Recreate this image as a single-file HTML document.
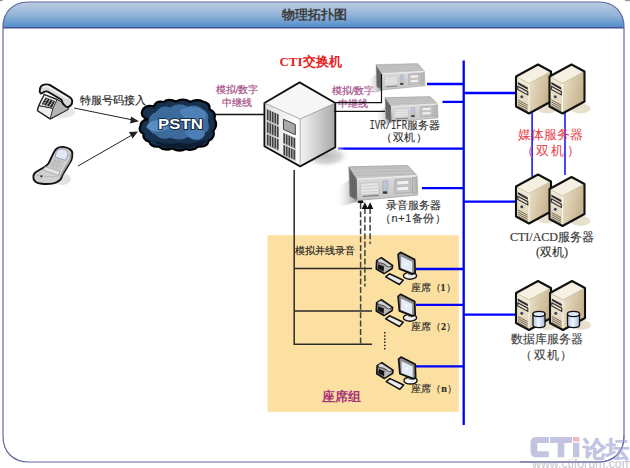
<!DOCTYPE html>
<html><head><meta charset="utf-8">
<style>
html,body{margin:0;padding:0;background:#fff;width:630px;height:468px;overflow:hidden}
svg{display:block}
text{font-family:"Liberation Sans",sans-serif;font-weight:400}
.serif{font-family:"Liberation Serif",serif}
</style></head><body>
<svg width="630" height="468" viewBox="0 0 630 468">
<defs>
  <linearGradient id="hdr" x1="0" y1="0" x2="0" y2="1">
    <stop offset="0" stop-color="#bccde0"/>
    <stop offset="0.5" stop-color="#93b4d8"/>
    <stop offset="1" stop-color="#4f8ccb"/>
  </linearGradient>
  <linearGradient id="twFront" x1="0" y1="0" x2="0" y2="1">
    <stop offset="0" stop-color="#f3ecdc"/>
    <stop offset="1" stop-color="#ddd0b0"/>
  </linearGradient>
  <linearGradient id="twSide" x1="0" y1="0" x2="1" y2="0.3">
    <stop offset="0" stop-color="#f3ecdc"/>
    <stop offset="0.5" stop-color="#e6dac0"/>
    <stop offset="1" stop-color="#c8b690"/>
  </linearGradient>
  <linearGradient id="cubeR" x1="0" y1="0" x2="1" y2="0">
    <stop offset="0" stop-color="#f4f4f4"/>
    <stop offset="1" stop-color="#a8a8a8"/>
  </linearGradient>
  <linearGradient id="cubeL" x1="0" y1="0" x2="1" y2="0">
    <stop offset="0" stop-color="#e0e0e0"/>
    <stop offset="1" stop-color="#ffffff"/>
  </linearGradient>
  <radialGradient id="shadow" cx="0.5" cy="0.5" r="0.5">
    <stop offset="0" stop-color="#b8b8b8"/>
    <stop offset="0.6" stop-color="#d8d8d8"/>
    <stop offset="1" stop-color="#ffffff" stop-opacity="0"/>
  </radialGradient>
  <radialGradient id="cloudG" cx="0.5" cy="0.45" r="0.6">
    <stop offset="0" stop-color="#3f6d9c"/>
    <stop offset="1" stop-color="#173352"/>
  </radialGradient>

  <!-- tower server, origin = left-top vertex x, back-top y -->
  <g id="tower">
    <ellipse cx="31" cy="44" rx="10" ry="5" fill="#e8e0cc"/>
    <path d="M0,12 L22,0 L35,7 L35,37 L13,49 L0,42 Z" fill="url(#twSide)"/>
    <path d="M0,12 L22,0 L35,7 L13,19 Z" fill="#f5f0e2"/>
    <path d="M0,12 L13,19 L13,49 L0,42 Z" fill="url(#twFront)"/>
    <path d="M13,19.5 L13,48.5" stroke="#fbf8f0" stroke-width="1"/>
    <path d="M0.5,12.3 L13,19 L34.5,7.2" fill="none" stroke="#bfb49a" stroke-width="0.7"/>
    <path d="M0,12 L22,0 L35,7 L35,37 L13,49 L0,42 Z" fill="none" stroke="#111" stroke-width="2.1" stroke-linejoin="round"/>
    <path d="M1.8,17.6 L11.8,23 L11.8,25.2 L1.8,19.8 Z" fill="#2e2e2e"/>
    <path d="M1.8,21.8 L11.8,27.2 L11.8,30.4 L1.8,25 Z" fill="#e9e1cf" stroke="#2a2a2a" stroke-width="1.1"/>
    <circle cx="5.8" cy="32.3" r="1.5" fill="#3c4658"/>
    <path d="M2,35.5 L11.5,40.6 M2,37.5 L11.5,42.6 M2,39.5 L11.5,44.6 M2,41.5 L11.5,46.6" stroke="#6a6250" stroke-width="0.9"/>
  </g>

  <!-- rack server -->
  <linearGradient id="rkShadow" x1="1" y1="0" x2="0" y2="0">
    <stop offset="0" stop-color="#8a8a8a"/>
    <stop offset="1" stop-color="#ffffff" stop-opacity="0"/>
  </linearGradient>
  <linearGradient id="rkFront" x1="0" y1="0" x2="0" y2="1">
    <stop offset="0" stop-color="#dcdcdc"/>
    <stop offset="1" stop-color="#c4c4c4"/>
  </linearGradient>
  <g id="rack">
    <path d="M1,14 L8,20 L8.8,36 L-4,40 L-14,38 L-13,24 Z" fill="url(#rkShadow)" opacity="0.95"/>
    <path d="M0,1.4 L58.8,0 L68.2,10.1 L8.1,13.6 Z" fill="#c4c4c4"/><path d="M3,4 L60,2.5 M5,7 L63,5.5 M7,10 L66,8.5" stroke="#b4b4b4" stroke-width="0.8"/>
    <path d="M2,2 L58,1 L60,3 L4,4 Z" fill="#bdbdbd"/>
    <path d="M0,1.4 L8.1,13.6 L8.8,35.1 L1,31 Z" fill="#6e6e6e"/><path d="M2,8 V30 M4,10 V32 M6,12 V33" stroke="#555" stroke-width="0.6"/>
    <path d="M8.1,13.6 L68.2,10.1 L68.9,29.6 L8.8,35.1 Z" fill="url(#rkFront)"/>
    <path d="M0,1.4 L58.8,0 L68.2,10.1 L68.9,29.6 L8.8,35.1 L1,31 Z" fill="none" stroke="#9a9a9a" stroke-width="0.7"/>
    <path d="M8.1,13.6 L68.2,10.1" stroke="#f4f4f4" stroke-width="0.8"/>
    <path d="M12,18 L30,17 L30,28 L12,29.5 Z" fill="#e8e8e8" stroke="#b0b0b0" stroke-width="0.5"/>
    <path d="M13,21 L29,20 M13,24 L29,23 M13,27 L29,26" stroke="#bababa" stroke-width="0.6"/>
    <path d="M34,15.5 L39,15.2 L39,25 L34,25.4 Z" fill="#b9c5d8" stroke="#999" stroke-width="0.4"/>
    <rect x="34" y="26" width="4.5" height="2.3" fill="#333"/>
    <path d="M46,14 L62,13 L62,27 L46,28 Z" fill="#c9c9c9" stroke="#9a9a9a" stroke-width="0.6"/>
    <path d="M48,15.5 L60,14.8 L60,19 L48,19.6 Z M48,21.5 L60,20.8 L60,25 L48,25.6 Z" fill="#f0f0f0" stroke="#888" stroke-width="0.4"/>
    <path d="M63.5,12.5 L67.5,12.2 L67.5,27.5 L63.5,28 Z" fill="#bdbdbd" stroke="#8a8a8a" stroke-width="0.5"/>
    <path d="M14,31 L30,30" stroke="#555" stroke-width="0.8"/>
  </g>

  <!-- seat -->
  <g id="seat">
    <!-- phone -->
    <path d="M1.7,8.8 L6.4,5.8 L17.5,13.5 L17.1,16.5 L9,21.6 L1.3,16.9 Z" fill="#9a9a9a" stroke="#111" stroke-width="1.7" stroke-linejoin="round"/>
    <path d="M2.6,8.6 Q3.5,6.5 6.4,6.6 L16.5,13.3 Q15.5,15.5 13,15 Q11,12.5 8,11.5 Q5,10.5 3.5,11 Z" fill="#d4d4d4" stroke="#222" stroke-width="0.8"/>
    <path d="M3.4,12.2 L9,14.4 L8.6,19.5 L2.6,16.5 Z" fill="#151515"/>
    <path d="M9,14.4 L16.6,15.8 L9,20.8 Z" fill="#b8b8b8"/>
    <!-- keyboard -->
    <path d="M10.7,24.8 L14.5,21.8 L28.2,28.2 L24.4,32.5 Z" fill="#eaeaea" stroke="#111" stroke-width="1.5" stroke-linejoin="round"/>
    <!-- monitor base -->
    <ellipse cx="35" cy="23.8" rx="6.6" ry="3.4" fill="#f2f2f2" stroke="#111" stroke-width="1.4"/>
    <path d="M33,20 L37,21.5 L37,23.5 L33,22.5 Z" fill="#777"/>
    <!-- monitor -->
    <path d="M23.1,2.4 L25.6,0.3 L39.7,7.5 L40.2,20.8 L38,22.1 L24.4,16.9 Z" fill="#8c8c8c" stroke="#111" stroke-width="1.7" stroke-linejoin="round"/>
    <path d="M26.1,4.5 L37.2,9.7 L37.2,20.4 L26.1,16.1 Z" fill="#e4eaf6"/>
    <path d="M30.5,10 L33,11.5 L30.5,14 Z" fill="#fafcff"/>
  </g>
</defs>

<!-- frame -->
<rect x="0" y="0" width="2.5" height="1.2" fill="#8a8a8a"/>
<rect x="625" y="0" width="5" height="1.2" fill="#9a9a9a"/>
<path d="M3,27 C3,12 13,2 28,2 L599,2 C614,2 624,12 624,27 L624,436 C624,452 614,462 598,462 L29,462 C13,462 3,452 3,436 Z" fill="#fff"/>
<path d="M3,27.8 L3,27 C3,12 13,2 28,2 L599,2 C614,2 624,12 624,27 L624,27.8 Z" fill="url(#hdr)"/>
<line x1="3" y1="27.8" x2="624" y2="27.8" stroke="#4a4f8f" stroke-width="1.4"/>
<path d="M3,27 C3,12 13,2 28,2 L599,2 C614,2 624,12 624,27 L624,436 C624,452 614,462 598,462 L29,462 C13,462 3,452 3,436 Z" fill="none" stroke="#6266a0" stroke-width="1.2"/>
<text x="314.5" y="18.7" font-size="13" style="font-weight:700" fill="#3c3c3c" text-anchor="middle">物理拓扑图</text>

<!-- orange seat group area -->
<rect x="267.5" y="235.2" width="191.3" height="176.6" fill="#fce0a1"/>

<!-- left phones -->
<g>
  <ellipse cx="62" cy="112" rx="13" ry="6" fill="#e6e6e6"/>
  <path d="M44.4,94.8 L56.9,99.7 L67.7,106 L67.7,109.2 L50.2,118.6 L37.6,110.5 L39,105.6 Z" fill="#c4c4c4" stroke="#111" stroke-width="1.9" stroke-linejoin="round"/>
  <path d="M56.9,99.7 L67.7,106 L67.7,109.2 L50.2,118.6 L52.9,108.3 Z" fill="#b4b4b4"/>
  <path d="M39,105.6 L52.9,108.3 L50.2,118.6 L37.6,110.5 Z" fill="#ececec" stroke="#222" stroke-width="0.9"/>
  <path d="M44.4,94.8 L56.9,99.7 L52.9,108.3 L39,105.6 Z" fill="#f0f0f0" stroke="#222" stroke-width="0.9"/>
  <path d="M45.7,97.5 L55.1,101.1 L52,107.4 L41.7,104.2 Z" fill="#1c1c1c"/>
  <g fill="#e0e0e0"><circle cx="47.0" cy="99.2" r="0.75"/><circle cx="46.1" cy="100.8" r="0.75"/><circle cx="45.1" cy="102.4" r="0.75"/><circle cx="44.1" cy="104.0" r="0.75"/><circle cx="49.8" cy="100.2" r="0.75"/><circle cx="48.9" cy="101.8" r="0.75"/><circle cx="47.9" cy="103.5" r="0.75"/><circle cx="47.0" cy="105.1" r="0.75"/><circle cx="52.7" cy="101.3" r="0.75"/><circle cx="51.7" cy="102.9" r="0.75"/><circle cx="50.7" cy="104.5" r="0.75"/><circle cx="49.8" cy="106.1" r="0.75"/></g>
  <path d="M39.9,89 Q40.5,85.5 44,84.6 Q47.5,84 49.7,84.9 L69.5,97 Q72.6,99 72.2,102 Q72,105.5 68.6,106.9 Q66.5,107.2 65.9,106.5 Q63,104.5 62.3,102.4 Q62,100.5 61.4,99.7 L56.9,97 L47.9,91.7 Q45.5,91 44.4,91.7 Q42,93.5 40.8,93.5 Q39.3,92.5 39.9,89 Z" fill="#d8d8d8" stroke="#111" stroke-width="1.9" stroke-linejoin="round"/>
  <path d="M42.5,87.5 Q45,86 48,86.5 L68,98.8" fill="none" stroke="#fbfbfb" stroke-width="1.3"/>
</g>
<g>
  <ellipse cx="62" cy="179" rx="9" ry="6" fill="#e2e2e2"/>
  <path d="M63.3,146.9 Q67.5,147.5 69.7,149.1 Q72.6,151 72.3,153.9 Q72.5,157.5 71.3,160.3 L64.3,172 Q62.8,174 62.2,175.8 Q61.5,178.5 60,180 Q57,182.5 53.6,183.3 Q48,184.5 41.9,183.8 Q37.5,183.2 35.5,181.7 Q33,179.5 33.3,176.9 Q33.5,173.5 36,172 Q40,169.5 44,167.2 Q47,165.5 48.8,163 L53.6,152.8 Q55,150 56.8,148.5 Q59.5,146.5 63.3,146.9 Z" fill="#d0d0d0" stroke="#111" stroke-width="1.9" stroke-linejoin="round"/>
  <path d="M70.5,154 Q71,158 69.5,161 L62.5,172.5 Q61,175 60.5,177" fill="none" stroke="#9a9a9a" stroke-width="1.6"/>
  <path d="M56.3,151.8 Q58,149.6 60,149.1 Q63,148.6 65.4,149.6 Q67.8,151.2 68,153.9 Q67.5,157.5 65.4,160.3 L55.2,157.1 Z" fill="#e2e9f6" stroke="#666" stroke-width="0.5"/>
  <path d="M53.6,158.2 L64.9,160.8 L60,171 L48.8,166.7 Z" fill="#c6c6c6"/>
  <path d="M52,161 L63,163.5 M50.5,164 L61.5,167 M56,159 L52,168 M60,160 L55.5,169.5" stroke="#b0b0b0" stroke-width="0.5"/>
  <path d="M45.1,166.7 L60,171.5 L58.4,175.3 L43,169.9 Z" fill="#e4e4e4" stroke="#888" stroke-width="0.5"/>
  <path d="M36,175 Q48,178 60,176" fill="none" stroke="#aaa" stroke-width="0.6"/>
  <circle cx="41.4" cy="176.3" r="1.1" fill="#222"/>
</g>
<text stroke="#222" stroke-width="0.15" x="80" y="104" font-size="11" fill="#222">特服号码接入</text>
<!-- arrows -->
<g stroke="#222" stroke-width="1" fill="#222">
  <line x1="74" y1="108" x2="133" y2="120"/>
  <path d="M139,121.2 L131,116.5 L130.2,123.6 Z" stroke="none"/>
  <line x1="78" y1="166" x2="132" y2="135"/>
  <path d="M138,131.5 L129,132 L132.6,138.4 Z" stroke="none"/>
</g>

<!-- PSTN cloud -->
<g transform="translate(177.5,126) scale(0.96,0.98) translate(-177.5,-126)">
<path d="M146,119 Q138,116 141,110 Q144,104 153,106 Q155,100 163,101.5 Q168,97.5 176,101 Q183,97 191,101.5 Q197,98 204,101 Q212,102.5 211,109 Q218,112 216,119 Q220,125 215,131 Q217,138 210,141 Q209,148 199,147 Q194,152 186,149.5 Q180,153 172,149 Q164,152 158,147 Q150,148 148,142 Q141,140 142,134 Q136,131 139,125.5 Q139,121 146,119 Z" fill="#16304d" stroke="#000" stroke-width="2.2" stroke-linejoin="round"/>
<path d="M148,123 Q146,115 155,112 Q160,104 170,107 Q178,101 188,106 Q198,103 204,109 Q212,113 209,121 Q213,130 205,134 Q200,140 190,137 Q180,142 170,138 Q160,141 155,135 Q145,132 148,123 Z" fill="#3d6a9c"/>
<path d="M145,127 Q148,120 158,120 Q166,116 176,121 Q172,130 160,131 Q150,133 145,127 Z" fill="#5b8cc3"/>
<path d="M180,110 Q190,104 200,108 Q209,111 207,118 Q200,122 190,120 Q181,117 180,110 Z" fill="#4f80b8"/>
<path d="M185,132 Q195,128 205,131 Q208,137 200,140 Q190,141 185,132 Z" fill="#4d7fb6"/>
<path d="M152,140 Q165,146 180,143 Q195,146 208,139 Q206,146 197,146 Q188,151 176,148 Q162,151 152,140 Z" fill="#0d1d30"/>
</g>
<text x="180.5" y="129.3" font-size="14" font-weight="bold" fill="#fff" text-anchor="middle" transform="translate(180.5,0) scale(1.2,1) translate(-180.5,0)" stroke="#0a1a30" stroke-width="1.6" paint-order="stroke" font-family="Liberation Sans" style="font-weight:700">PSTN</text>

<!-- lines -->
<line x1="215" y1="114.5" x2="265" y2="114.5" stroke="#111" stroke-width="1.6"/>
<text x="237" y="93.3" font-size="9.8" fill="#a8508a" stroke="#a8508a" stroke-width="0.2" text-anchor="middle">模拟/数字</text>
<text x="236.5" y="106.2" font-size="9.5" fill="#a8508a" stroke="#a8508a" stroke-width="0.2" text-anchor="middle">中继线</text>

<!-- switch to IVR lines -->

<text x="353" y="93.8" font-size="9.8" fill="#a8508a" stroke="#a8508a" stroke-width="0.2" text-anchor="middle">模拟/数字</text>
<text x="353.3" y="106.5" font-size="9.5" fill="#a8508a" stroke="#a8508a" stroke-width="0.2" text-anchor="middle">中继线</text>

<!-- black lines from switch down -->
<path d="M294.2,170 L294.2,344.3 L372,344.3 M294.2,268.6 L372,268.6 M294.2,311.1 L372,311.1" fill="none" stroke="#2a2a2a" stroke-width="1.5"/>
<!-- dashed arrows -->
<g stroke="#404040" stroke-width="1.5" stroke-dasharray="6,2.4" fill="none">
  <line x1="360.6" y1="203" x2="360.6" y2="344"/>
  <line x1="364.9" y1="208" x2="364.9" y2="286.5"/>
  <line x1="370.1" y1="208" x2="370.1" y2="244"/>
</g>
<path d="M360.6,195.5 L357.4,203 L363.8,203 Z M364.9,202.2 L361.7,209 L368.1,209 Z M370.1,202.2 L366.9,209 L373.3,209 Z" fill="#111"/>
<text stroke="#222" stroke-width="0.15" x="325" y="254" font-size="10" fill="#222" text-anchor="middle">模拟并线录音</text>
<path d="M384.8,332 L384.8,351" stroke="#222" stroke-width="1.5" stroke-dasharray="1.5,1.7"/>

<!-- blue lines -->
<g stroke="#0000ff" stroke-width="2.3" fill="none">
  <line x1="463.7" y1="60.5" x2="463.7" y2="425"/>
  <line x1="427" y1="84" x2="463.7" y2="84"/>
  <line x1="442.5" y1="101.9" x2="463.7" y2="101.9"/>
  <line x1="338" y1="148.7" x2="463.7" y2="148.7"/>
  <line x1="422" y1="188.2" x2="463.7" y2="188.2"/>
  <line x1="463.7" y1="93" x2="517" y2="93"/>
  <line x1="463.7" y1="201.7" x2="518" y2="201.7"/>
  <line x1="463.7" y1="314.6" x2="519" y2="314.6"/>
  <line x1="416" y1="269" x2="463.7" y2="269"/>
  <line x1="416" y1="304.9" x2="463.7" y2="304.9"/>
  <line x1="416" y1="366.4" x2="463.7" y2="366.4"/>
</g>
<path d="M532.1,113 V176.7 M565,111.8 V175" stroke="#1a1aff" stroke-width="1.6"/>

<!-- switch cube -->
<ellipse cx="326" cy="156" rx="24" ry="12" fill="url(#shadow)"/>
<path d="M299.6,82.4 L335.3,103 L300.2,119 L264.4,103 Z" fill="#f6f6f6"/>
<path d="M264.4,103 L300.2,119 L300.2,166.4 L264.4,146.3 Z" fill="url(#cubeL)"/>
<path d="M300.2,119 L335.3,103 L335.3,147.3 L300.2,166.4 Z" fill="url(#cubeR)"/>
<path d="M299.6,82.4 L335.3,103 L335.3,147.3 L300.2,166.4 L264.4,146.3 L264.4,103 Z" fill="none" stroke="#111" stroke-width="1.8" stroke-linejoin="round"/>
<path d="M264.4,103 L300.2,119 L335.3,103 M300.2,119 L300.2,166.4" fill="none" stroke="#8a8a8a" stroke-width="0.7"/>
<path d="M266.5,108.8 L278.8,114.3 L278.8,125.9 L266.5,120.4 Z" fill="#b4b4b4"/>
<rect x="267.1" y="109.7" width="1.3" height="10.4" fill="#333"/>
<rect x="269.6" y="110.8" width="1.3" height="10.4" fill="#333"/>
<rect x="272.1" y="111.9" width="1.3" height="10.4" fill="#333"/>
<rect x="274.6" y="113.0" width="1.3" height="10.4" fill="#333"/>
<rect x="277.1" y="114.1" width="1.3" height="10.4" fill="#333"/>
<path d="M266.5,121.3 L278.8,126.8 L278.8,138.4 L266.5,132.9 Z" fill="#b4b4b4"/>
<rect x="267.1" y="122.2" width="1.3" height="10.4" fill="#333"/>
<rect x="269.6" y="123.3" width="1.3" height="10.4" fill="#333"/>
<rect x="272.1" y="124.4" width="1.3" height="10.4" fill="#333"/>
<rect x="274.6" y="125.5" width="1.3" height="10.4" fill="#333"/>
<rect x="277.1" y="126.6" width="1.3" height="10.4" fill="#333"/>
<path d="M266.5,133.8 L278.8,139.3 L278.8,150.9 L266.5,145.4 Z" fill="#b4b4b4"/>
<rect x="267.1" y="134.7" width="1.3" height="10.4" fill="#333"/>
<rect x="269.6" y="135.8" width="1.3" height="10.4" fill="#333"/>
<rect x="272.1" y="136.9" width="1.3" height="10.4" fill="#333"/>
<rect x="274.6" y="138.0" width="1.3" height="10.4" fill="#333"/>
<rect x="277.1" y="139.1" width="1.3" height="10.4" fill="#333"/>
<path d="M283.0,132.6 L295.8,138.3 L295.8,149.3 L283.0,143.6 Z" fill="#b4b4b4"/>
<rect x="283.6" y="133.5" width="1.3" height="9.8" fill="#333"/>
<rect x="286.1" y="134.6" width="1.3" height="9.8" fill="#333"/>
<rect x="288.6" y="135.7" width="1.3" height="9.8" fill="#333"/>
<rect x="291.1" y="136.8" width="1.3" height="9.8" fill="#333"/>
<rect x="293.6" y="137.9" width="1.3" height="9.8" fill="#333"/>
<path d="M283.0,144.4 L295.8,150.1 L295.8,161.1 L283.0,155.4 Z" fill="#b4b4b4"/>
<rect x="283.6" y="145.3" width="1.3" height="9.8" fill="#333"/>
<rect x="286.1" y="146.4" width="1.3" height="9.8" fill="#333"/>
<rect x="288.6" y="147.5" width="1.3" height="9.8" fill="#333"/>
<rect x="291.1" y="148.6" width="1.3" height="9.8" fill="#333"/>
<rect x="293.6" y="149.7" width="1.3" height="9.8" fill="#333"/>
<path d="M283.5,119.2 L295.3,124.5 L295.3,134.7 L283.5,129.4 Z" fill="#a9a9a9" stroke="#333" stroke-width="0.9"/>
<text x="310.5" y="65.5" font-size="13" style="font-weight:700" fill="#e82020" text-anchor="middle" class="serif">CTI交换机</text>

<!-- IVR servers -->
<g transform="translate(376,63.6) scale(0.71,0.75)"><use href="#rack"/></g>
<g transform="translate(385,96.6) scale(0.77,0.72)"><use href="#rack"/></g>
<path d="M334,102.6 L381.5,102.6 L381.5,74" fill="none" stroke="#111" stroke-width="1.2"/>
<line x1="334" y1="111.4" x2="385" y2="111.4" stroke="#111" stroke-width="1.4"/>
<text stroke="#333" stroke-width="0.15" x="369.5" y="129" font-size="10.5" fill="#333"><tspan style="font-family:'Liberation Mono',monospace;font-weight:400" font-size="12.5" textLength="37.5" lengthAdjust="spacingAndGlyphs">IVR/IFR</tspan>服务器</text>
<text stroke="#333" stroke-width="0.15" x="404" y="141" font-size="10.5" fill="#333" text-anchor="middle" textLength="46.5" lengthAdjust="spacing">（双机）</text>

<!-- recording server -->
<g transform="translate(348.8,165.4)"><use href="#rack"/></g>
<text stroke="#333" stroke-width="0.15" x="413.5" y="209" font-size="11" fill="#333" text-anchor="middle">录音服务器</text>
<text stroke="#333" stroke-width="0.15" x="413" y="222" font-size="11" fill="#333" text-anchor="middle" textLength="66" lengthAdjust="spacing">（n+1备份）</text>

<!-- right towers -->
<use href="#tower" x="516" y="64.5"/>
<use href="#tower" x="549.5" y="64.5"/>
<text x="550.5" y="138.5" font-size="13" fill="#e8404a" text-anchor="middle">媒体服务器</text>
<text x="550" y="154.8" font-size="13" fill="#e8404a" text-anchor="middle" textLength="59" lengthAdjust="spacing">（双机）</text>

<use href="#tower" x="516" y="174.5"/>
<use href="#tower" x="549.5" y="177"/>
<text stroke="#333" stroke-width="0.15" x="552" y="241" font-size="12" fill="#333" text-anchor="middle" class="serif">CTI/ACD服务器</text>
<text stroke="#333" stroke-width="0.15" x="552" y="256" font-size="12" fill="#333" text-anchor="middle" class="serif">(双机)</text>

<use href="#tower" x="516" y="281"/>
<use href="#tower" x="550" y="281"/>
<g>
  <linearGradient id="cyl" x1="0" y1="0" x2="1" y2="0">
    <stop offset="0" stop-color="#a9c6ea"/>
    <stop offset="0.45" stop-color="#f4f8ff"/>
    <stop offset="1" stop-color="#9dbbe0"/>
  </linearGradient>
  <path d="M533,314 L533,325 A6,2.6 0 0 0 545,325 L545,314 Z" fill="url(#cyl)" stroke="#111" stroke-width="1.3"/>
  <ellipse cx="539" cy="314" rx="6" ry="2.6" fill="#dfeafa" stroke="#111" stroke-width="1.3"/>
  <path d="M567.5,314 L567.5,325 A6,2.6 0 0 0 579.5,325 L579.5,314 Z" fill="url(#cyl)" stroke="#111" stroke-width="1.3"/>
  <ellipse cx="573.5" cy="314" rx="6" ry="2.6" fill="#dfeafa" stroke="#111" stroke-width="1.3"/>
</g>
<text stroke="#444" stroke-width="0.15" x="547" y="343" font-size="12" fill="#444" text-anchor="middle">数据库服务器</text>
<text stroke="#444" stroke-width="0.15" x="546.3" y="359" font-size="12" fill="#444" text-anchor="middle" textLength="52" lengthAdjust="spacing">（双机）</text>

<!-- seats -->
<use href="#seat" x="375" y="252"/>
<use href="#seat" x="375" y="294"/>
<use href="#seat" x="375.5" y="356.8"/>
<text stroke="#2a2a2a" stroke-width="0.15" x="433" y="291.2" font-size="10" fill="#2a2a2a" text-anchor="middle" class="serif" style="font-weight:500">座席（<tspan style="font-weight:700">1</tspan>）</text>
<text stroke="#2a2a2a" stroke-width="0.15" x="433.5" y="330" font-size="10" fill="#2a2a2a" text-anchor="middle" class="serif" style="font-weight:500">座席（<tspan style="font-weight:700">2</tspan>）</text>
<text stroke="#2a2a2a" stroke-width="0.15" x="434" y="392" font-size="10" fill="#2a2a2a" text-anchor="middle" class="serif" style="font-weight:500">座席（<tspan style="font-weight:700">n</tspan>）</text>
<text x="341" y="401" font-size="13" fill="#a8357a" text-anchor="middle" style="font-weight:700">座席组</text>

<!-- watermark -->
<g opacity="1">
<path d="M548.8,437 L536,437 Q530.5,437 530.5,443 L530.5,451 Q530.5,457.3 536,457.3 L548.8,457.3 L548.8,451.3 L537.3,451.3 L537.3,443 L548.8,443 Z" fill="#c3c3e2"/>
<path d="M550,437 L572,437 L572,443 L564.3,443 L564.3,457.3 L557.7,457.3 L557.7,443 L550,443 Z" fill="#c3c3e2"/>
<rect x="573" y="442.8" width="6.3" height="14.5" fill="#c3c3e2"/>
<rect x="573" y="437" width="6.3" height="4.6" fill="#f2b8c2"/>
<text x="582.5" y="456.5" font-size="22.5" style="font-weight:700" fill="#c3c3e2" stroke="#c3c3e2" stroke-width="0.6">论坛</text>
<text x="532" y="468" font-size="12.5" fill="#c4c4cc" textLength="100" lengthAdjust="spacingAndGlyphs">www.ctiforum.com</text>
</g>
<path d="M624,436 C624,452 614,462 598,462 L520,462" fill="none" stroke="#6a6aa6" stroke-width="1"/>
</svg>
</body></html>
